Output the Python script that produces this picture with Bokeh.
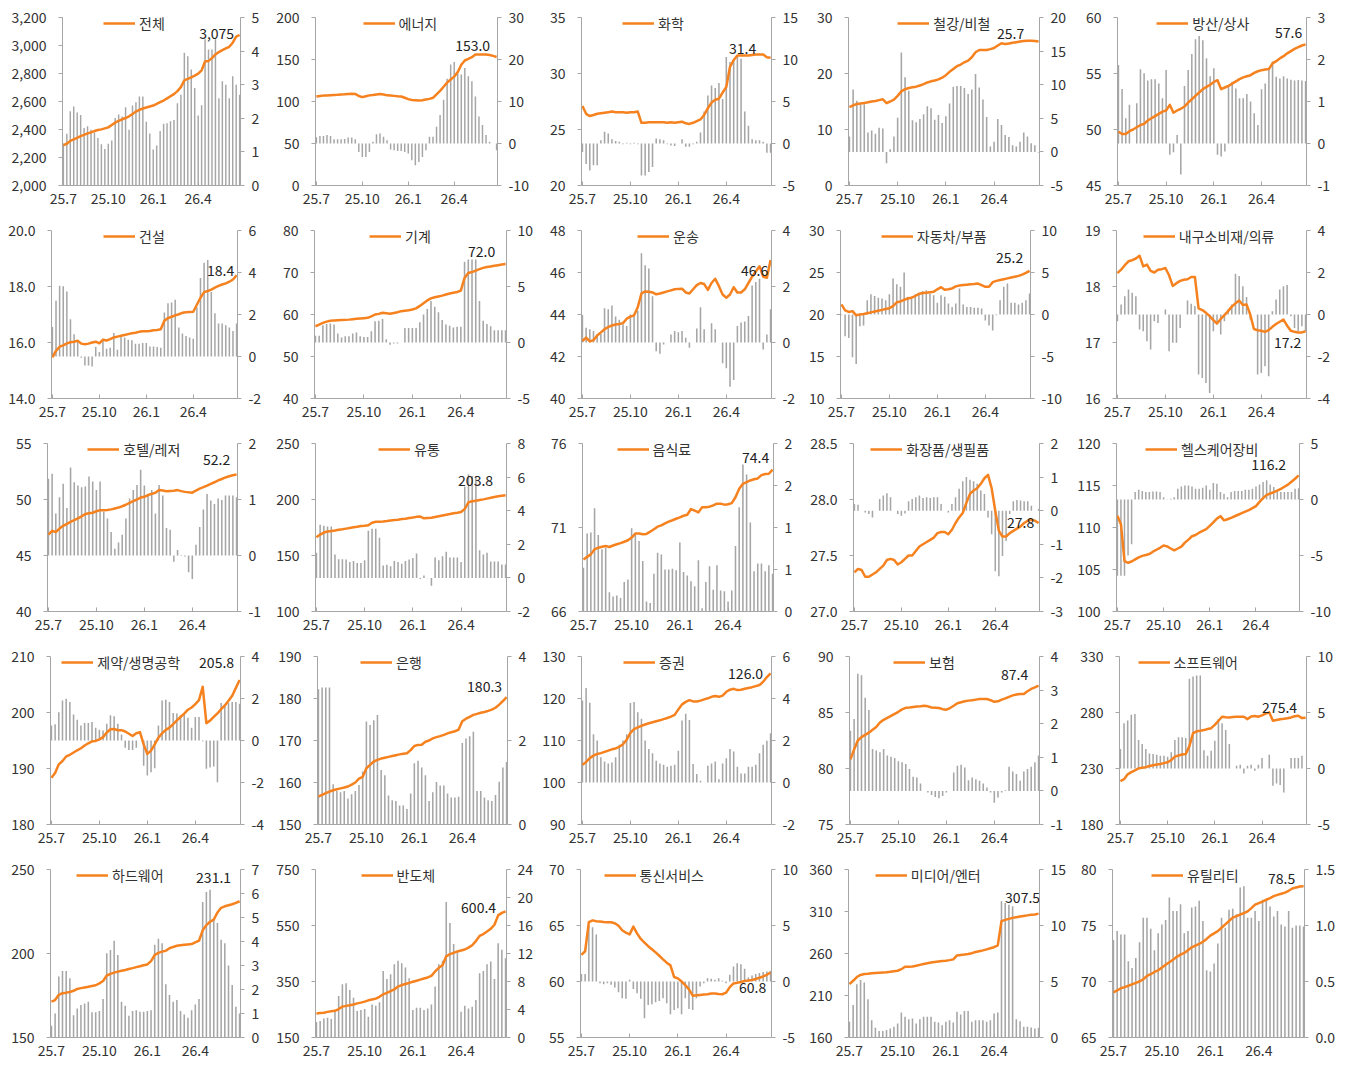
from bokeh.plotting import figure
from bokeh.models import Range1d, LinearAxis, FixedTicker, Legend, LegendItem, Label
from bokeh.layouts import column, row
from bokeh.embed import file_html
from bokeh.resources import INLINE

# ---------------- data ----------------
N_WEEKS = 52
weeks = list(range(N_WEEKS))
x_tick_pos = [0, 13, 26, 39]
x_tick_labels = ["25.7", "25.10", "26.1", "26.4"]

sector_names = ["전체", "에너지", "화학", "철강/비철", "방산/상사",
                "건설", "기계", "운송", "자동차/부품", "내구소비재/의류",
                "호텔/레저", "유통", "음식료", "화장품/생필품", "헬스케어장비",
                "제약/생명공학", "은행", "증권", "보험", "소프트웨어",
                "하드웨어", "반도체", "통신서비스", "미디어/엔터", "유틸리티"]

total_line = [2288, 2298, 2319, 2329, 2341, 2353, 2362, 2372, 2379, 2389, 2396, 2401, 2408, 2415, 2432, 2449, 2461, 2473, 2482, 2494, 2511, 2528, 2540, 2550, 2557, 2564, 2571, 2583, 2595, 2607, 2622, 2638, 2653, 2674, 2703, 2751, 2761, 2773, 2785, 2799, 2823, 2886, 2890, 2910, 2936, 2953, 2967, 2979, 2991, 3020, 3063, 3075]
total_bar = [1.25, 1.54, 2.21, 2.35, 2.17, 2.1, 1.71, 1.76, 1.66, 1.58, 1.41, 1.23, 1.09, 1.24, 1.34, 2.01, 2.11, 2.05, 2.33, 1.66, 2.38, 2.48, 2.65, 2.65, 1.9, 1.55, 1.07, 1.19, 1.62, 1.84, 1.85, 1.91, 1.95, 2.45, 2.7, 3.95, 3.85, 3.45, 2.9, 2.08, 2.39, 4.35, 4.05, 4.05, 4.35, 2.6, 3.1, 3.0, 2.6, 3.25, 3.0, 2.7]

energy_line = [106, 106.5, 107, 107.2, 107.5, 107.8, 108, 108.3, 108.6, 109, 109.3, 109, 106.5, 105.2, 106.3, 107.3, 107.8, 108.4, 108.8, 108.3, 107.3, 107, 106.7, 106.3, 106, 104.5, 102.8, 101.7, 101.4, 101.1, 101.5, 102.3, 103.1, 104.4, 108.5, 112.7, 117.5, 122.5, 126.2, 129.6, 135, 143.7, 148.8, 150.7, 152.8, 156, 156, 156, 156, 155.4, 154.3, 153.0]
energy_bar = [1.5, 1.8, 1.8, 2.0, 1.8, 1.0, 1.0, 1.0, 1.1, 1.4, 1.4, 1.0, -2.0, -3.2, -3.2, -2.0, 0.4, 2.2, 2.4, 1.6, 0.8, -1.4, -1.6, -1.8, -1.8, -2.0, -2.4, -4.0, -5.2, -4.4, -3.2, -1.6, 1.6, 1.6, 4.0, 6.8, 10.4, 15.4, 18.8, 19.4, 16.6, 16.4, 18.0, 16.0, 14.8, 11.2, 6.4, 4.4, 2.0, 0.4, 0.0, -1.6]

chem_line = [27.1, 26.4, 26.2, 26.3, 26.4, 26.45, 26.5, 26.55, 26.6, 26.55, 26.55, 26.55, 26.5, 26.55, 26.55, 26.6, 25.6, 25.6, 25.65, 25.65, 25.65, 25.65, 25.65, 25.6, 25.65, 25.6, 25.65, 25.7, 25.55, 25.5, 25.6, 25.75, 25.9, 26.3, 26.9, 27.4, 27.65, 27.75, 28.3, 28.8, 30.6, 31.2, 31.6, 31.6, 31.6, 31.6, 31.65, 31.7, 31.7, 31.7, 31.45, 31.4]
chem_bar = [-1.0, -2.45, -3.2, -2.6, -2.6, 0.4, 1.4, 1.2, 0.5, 0.3, 0.2, -0.1, 0.1, -0.1, 0.1, -0.1, -3.8, -3.8, -3.4, -2.8, 0.6, 0.5, 0.4, -0.1, -0.25, -0.3, 0.0, 0.5, -0.4, -0.4, -0.1, 0.2, 1.3, 3.8, 5.7, 6.9, 6.6, 7.2, 5.3, 10.3, 9.7, 10.0, 10.5, 10.1, 3.8, 2.1, 0.5, 0.4, 0.4, 0.2, -1.1, -1.1]

steel_line = [14.0, 14.3, 14.55, 14.65, 14.75, 14.85, 15.0, 15.1, 15.25, 15.4, 14.7, 15.0, 15.35, 16.0, 16.8, 17.2, 17.4, 17.55, 17.65, 17.85, 18.1, 18.4, 18.6, 18.75, 18.95, 19.25, 19.7, 20.3, 20.8, 21.3, 21.6, 22.0, 22.3, 22.9, 23.8, 24.2, 24.2, 24.2, 24.35, 24.55, 25.0, 25.4, 25.25, 25.35, 25.5, 25.6, 25.7, 25.8, 25.85, 25.85, 25.8, 25.7]
steel_bar = [2.3, 9.3, 7.6, 7.1, 7.1, 2.9, 3.2, 2.7, 3.6, 3.5, -1.7, 0.4, 2.3, 5.1, 14.8, 11.1, 9.1, 4.7, 4.4, 4.9, 5.6, 6.8, 6.5, 4.8, 5.5, 4.3, 5.3, 7.2, 9.7, 9.8, 9.8, 9.5, 8.6, 9.3, 11.6, 9.6, 7.8, 5.2, 0.8, 1.5, 4.9, 4.0, 2.5, 2.2, 1.0, 0.8, 1.5, 2.9, 2.3, 1.3, 1.0, -0.1]

defense_line = [49.8, 49.6, 49.6, 49.85, 50.0, 50.2, 50.4, 50.5, 50.8, 51.0, 51.2, 51.4, 51.6, 51.7, 52.2, 51.5, 51.7, 51.85, 52.05, 52.4, 52.7, 53.0, 53.3, 53.6, 53.8, 54.0, 54.25, 54.4, 53.6, 53.75, 53.9, 54.1, 54.3, 54.5, 54.65, 54.75, 54.85, 55.05, 55.2, 55.3, 55.35, 55.4, 55.9, 56.1, 56.35, 56.55, 56.8, 57.0, 57.2, 57.35, 57.5, 57.6]
defense_bar = [1.87, 1.3, 0.6, 0.92, 0.0, 0.96, 1.77, 1.67, 1.5, 1.53, 1.53, 1.43, 1.08, 1.75, -0.27, -0.21, 0.2, -0.74, 1.37, 1.75, 2.13, 2.48, 2.56, 2.46, 2.03, 1.6, 1.79, -0.27, -0.31, -0.19, 1.39, 1.47, 1.31, 1.08, 1.08, 1.18, 1.0, 0.72, 0.44, 1.29, 1.43, 1.75, 1.95, 1.59, 1.55, 1.6, 1.55, 1.52, 1.5, 1.51, 1.5, 1.49]

constr_line = [15.47, 15.7, 15.85, 15.9, 15.97, 16.01, 16.03, 16.06, 15.96, 15.94, 15.96, 16.0, 16.03, 15.97, 16.1, 16.07, 16.12, 16.18, 16.21, 16.24, 16.27, 16.3, 16.33, 16.35, 16.38, 16.4, 16.4, 16.41, 16.44, 16.45, 16.47, 16.78, 16.87, 16.92, 16.97, 17.01, 17.06, 17.08, 17.09, 17.1, 17.35, 17.6, 17.8, 17.84, 17.89, 17.96, 18.02, 18.07, 18.11, 18.17, 18.25, 18.4]
constr_bar = [1.41, 2.65, 3.37, 3.34, 3.1, 1.77, 1.06, 0.69, -0.06, -0.43, -0.43, -0.48, 0.45, 0.21, 0.85, 0.37, 0.42, 1.12, 0.32, 0.93, 0.9, 0.8, 0.77, 0.61, 0.61, 0.64, 0.64, 0.48, 0.48, 0.45, 0.42, 2.09, 2.54, 2.57, 2.7, 1.38, 1.09, 0.98, 0.9, 0.85, 2.34, 3.74, 4.46, 4.6, 3.07, 2.06, 1.57, 1.57, 1.49, 1.38, 1.22, 1.57]

mach_line = [57.2, 57.6, 58.0, 58.3, 58.5, 58.6, 58.63, 58.67, 58.72, 58.78, 58.87, 58.97, 59.05, 59.13, 59.2, 59.55, 60.0, 60.15, 60.4, 60.3, 60.2, 60.35, 60.55, 60.8, 60.9, 61.0, 61.2, 61.45, 62.05, 62.7, 63.35, 63.85, 64.1, 64.3, 64.5, 64.75, 65.0, 65.2, 65.35, 65.7, 68.7, 69.9, 70.1, 70.45, 70.8, 71.1, 71.3, 71.45, 71.6, 71.75, 71.9, 72.0]
mach_bar = [0.6, 0.6, 1.55, 1.65, 1.7, 1.6, 0.8, 0.45, 0.55, 0.55, 0.8, 0.9, 0.55, 0.5, 0.5, 1.0, 1.9, 1.95, 2.1, 0.3, -0.2, -0.1, -0.1, 0.0, 1.3, 1.3, 1.3, 1.3, 1.8, 2.5, 3.0, 3.7, 3.2, 2.7, 2.0, 1.6, 1.5, 1.35, 1.4, 1.4, 7.2, 7.4, 7.4, 7.4, 3.7, 1.95, 1.65, 1.45, 1.1, 1.1, 1.1, 1.1]

trans_line = [42.74, 42.9, 42.72, 42.78, 43.0, 43.15, 43.3, 43.4, 43.48, 43.52, 43.55, 43.59, 43.8, 43.9, 43.96, 44.35, 45.0, 45.1, 45.08, 45.05, 44.96, 45.0, 45.05, 45.1, 45.15, 45.2, 45.22, 45.23, 45.05, 45.0, 45.2, 45.4, 45.5, 45.45, 45.17, 45.5, 45.7, 45.35, 44.95, 44.8, 44.95, 45.3, 45.05, 45.05, 45.2, 45.5, 45.8, 46.05, 46.3, 45.8, 45.75, 46.6]
trans_bar = [0.98, 0.53, 0.47, 0.41, 0.29, 0.3, 1.22, 1.19, 1.32, 0.93, 0.81, 0.65, 0.59, 1.0, 0.95, 1.13, 3.19, 2.76, 2.64, 1.65, -0.31, -0.4, -0.07, 0.0, 0.29, 0.41, 0.37, 0.41, 0.17, -0.19, 0.0, 0.5, 1.26, 0.47, -0.01, 0.69, 0.47, 0.0, -0.74, -0.92, -1.58, -1.34, 0.59, 0.71, 0.75, 0.95, 2.04, 2.16, 2.28, -0.25, 0.29, 1.19]

auto_line = [21.2, 20.5, 20.3, 20.4, 19.9, 20.0, 20.05, 20.15, 20.25, 20.35, 20.45, 20.55, 20.65, 20.75, 21.0, 21.45, 21.55, 21.75, 21.9, 22.0, 22.2, 22.45, 22.55, 22.6, 22.65, 22.7, 23.0, 23.25, 22.95, 23.0, 23.1, 23.35, 23.45, 23.5, 23.55, 23.6, 23.62, 23.68, 23.5, 23.3, 23.3, 23.85, 24.0, 24.1, 24.2, 24.3, 24.4, 24.5, 24.6, 24.75, 24.95, 25.2]
auto_bar = [-0.1, -2.6, -2.8, -5.1, -5.9, -1.4, -1.3, 1.7, 2.4, 2.2, 2.0, 1.9, 1.7, 2.4, 4.3, 3.6, 3.3, 5.0, 2.1, 2.1, 2.4, 2.6, 2.8, 2.9, 2.5, 2.3, 1.4, 2.3, 2.1, 1.3, 0.9, 1.3, 3.1, 1.2, 0.9, 0.9, 0.8, 0.8, 0.7, -0.7, -1.3, -1.9, -0.1, 1.7, 3.3, 3.7, 1.4, 1.4, 1.2, 1.4, 1.7, 2.5]

durable_line = [18.24, 18.3, 18.38, 18.45, 18.47, 18.5, 18.55, 18.36, 18.39, 18.28, 18.25, 18.3, 18.31, 18.33, 18.2, 18.01, 18.06, 18.1, 18.12, 18.13, 18.17, 18.17, 17.61, 17.58, 17.53, 17.47, 17.4, 17.34, 17.42, 17.49, 17.56, 17.64, 17.7, 17.75, 17.67, 17.68, 17.5, 17.24, 17.22, 17.21, 17.19, 17.22, 17.28, 17.33, 17.37, 17.41, 17.3, 17.21, 17.19, 17.18, 17.18, 17.2]
durable_bar = [-0.32, 0.48, 0.87, 1.19, 1.03, 0.87, -0.72, -0.8, -1.27, -1.67, -0.32, -0.4, 0.0, 0.24, -1.75, -1.35, -1.35, -0.64, 0.0, 0.67, 0.51, 0.4, -2.86, -3.02, -3.26, -3.74, -0.8, -0.48, -0.95, -0.32, 0.24, 0.48, 1.94, 1.83, 1.35, 0.83, -0.24, 0.0, -2.86, -2.78, -2.46, -2.94, 0.16, 0.72, 1.19, 1.35, 1.4, -0.08, -0.64, -0.8, -0.56, -0.8]

hotel_line = [46.87, 47.2, 47.1, 47.4, 47.65, 47.83, 48.0, 48.15, 48.32, 48.5, 48.7, 48.78, 48.82, 48.95, 49.05, 49.04, 49.06, 49.12, 49.2, 49.28, 49.4, 49.53, 49.7, 49.85, 50.0, 50.17, 50.24, 50.4, 50.5, 50.6, 50.85, 50.8, 50.73, 50.76, 50.79, 50.84, 50.75, 50.68, 50.64, 50.61, 50.8, 50.97, 51.1, 51.24, 51.39, 51.54, 51.7, 51.83, 51.97, 52.07, 52.17, 52.23]
hotel_bar = [1.37, 1.46, 0.75, 1.04, 1.28, 0.85, 1.57, 1.31, 1.25, 1.22, 1.23, 1.41, 1.32, 1.17, 1.32, 0.78, 0.66, 0.42, 0.12, 0.23, 0.37, 0.66, 1.02, 1.17, 1.26, 1.53, 1.25, 1.1, 1.17, 0.75, 1.26, 1.07, 0.49, 0.46, -0.11, 0.1, 0.01, -0.02, -0.3, -0.42, 0.19, 0.51, 0.82, 1.1, 0.98, 0.92, 1.02, 0.99, 1.07, 1.07, 1.07, 1.04]

retail_line = [166.3, 168.7, 170.5, 171.4, 171.8, 172.3, 172.9, 173.4, 174.0, 174.6, 175.2, 175.7, 176.3, 176.6, 177.0, 179.2, 180.1, 180.2, 180.4, 180.8, 181.3, 181.6, 182.0, 182.5, 182.9, 183.4, 183.9, 184.5, 184.8, 183.2, 183.5, 183.7, 184.4, 185.1, 185.8, 186.4, 187.0, 187.7, 188.2, 188.8, 191.6, 197.5, 198.4, 198.9, 199.5, 200.1, 200.8, 201.5, 202.3, 202.9, 203.4, 203.8]
retail_bar = [1.49, 3.16, 3.1, 3.06, 3.06, 1.39, 1.11, 1.11, 1.09, 0.94, 1.0, 0.88, 0.88, 1.05, 2.81, 2.93, 2.93, 2.39, 0.74, 0.78, 0.7, 1.0, 0.94, 0.84, 1.0, 1.09, 1.19, 1.45, -0.06, 0.14, -0.02, -0.46, 1.21, 1.05, 1.29, 1.55, 1.21, 1.21, 1.21, 0.94, 5.43, 6.17, 6.07, 6.03, 1.65, 1.39, 1.49, 0.98, 0.98, 0.98, 0.8, 0.8]

food_line = [69.1, 69.25, 69.4, 69.7, 69.8, 69.85, 69.9, 69.84, 69.93, 70.0, 70.07, 70.15, 70.24, 70.4, 70.64, 70.64, 70.6, 70.62, 70.75, 70.9, 71.05, 71.13, 71.25, 71.35, 71.43, 71.52, 71.6, 71.7, 71.76, 72.1, 72.0, 71.9, 72.2, 72.2, 72.24, 72.32, 72.42, 72.42, 72.36, 72.38, 72.45, 72.8, 73.3, 73.6, 73.7, 73.8, 73.87, 73.92, 74.12, 74.18, 74.2, 74.44]
food_bar = [0.52, 0.93, 0.94, 1.23, 0.91, 0.74, 0.76, 0.23, 0.18, 0.19, 0.16, 0.35, 0.38, 0.99, 0.93, 0.84, 0.6, 0.12, 0.1, 0.45, 0.7, 0.68, 0.5, 0.5, 0.51, 0.49, 0.82, 0.47, 0.43, 0.36, 0.3, 0.61, 0.04, 0.35, 0.54, 0.26, 0.55, 0.25, 0.24, 0.12, 0.25, 0.78, 1.24, 1.75, 1.63, 1.06, 0.48, 0.57, 0.57, 0.48, 0.55, 0.45]

cosm_line = [27.35, 27.38, 27.37, 27.31, 27.31, 27.33, 27.35, 27.38, 27.41, 27.46, 27.47, 27.46, 27.42, 27.44, 27.47, 27.5, 27.5, 27.54, 27.58, 27.6, 27.62, 27.64, 27.66, 27.7, 27.71, 27.71, 27.69, 27.73, 27.79, 27.84, 27.88, 27.97, 28.05, 28.08, 28.1, 28.14, 28.19, 28.22, 28.1, 27.9, 27.72, 27.67, 27.67, 27.7, 27.72, 27.74, 27.76, 27.79, 27.81, 27.82, 27.81, 27.79]
cosm_bar = [0.2, 0.18, 0.0, -0.05, -0.1, -0.2, 0.0, 0.35, 0.45, 0.52, 0.4, 0.0, -0.1, -0.15, -0.08, 0.28, 0.35, 0.4, 0.45, 0.38, 0.4, 0.38, 0.4, 0.4, 0.2, 0.0, -0.05, 0.2, 0.4, 0.65, 0.88, 1.0, 0.92, 0.88, 0.8, 0.6, 0.5, -0.2, -0.7, -1.8, -1.95, -1.35, -0.9, -0.1, 0.28, 0.32, 0.3, 0.28, 0.28, 0.15, 0.0, 0.05]

health_line = [111.4, 110.4, 106.0, 105.8, 105.95, 106.2, 106.45, 106.62, 106.72, 106.84, 107.12, 107.35, 107.58, 107.86, 107.75, 107.5, 107.28, 107.5, 107.72, 108.2, 108.56, 108.96, 109.1, 109.38, 109.6, 109.8, 110.2, 110.6, 111.06, 111.35, 110.85, 110.98, 111.15, 111.34, 111.52, 111.7, 111.9, 112.07, 112.3, 112.55, 113.05, 113.5, 113.86, 114.05, 114.2, 114.4, 114.6, 114.85, 115.1, 115.45, 115.8, 116.2]
health_bar = [-6.8, -6.8, -6.8, -5.0, -4.0, 0.66, 0.87, 0.75, 0.66, 0.66, 0.72, 0.72, 0.66, 0.21, -0.03, 0.06, 0.21, 0.96, 1.17, 1.26, 1.26, 1.17, 0.96, 0.96, 1.05, 1.26, 0.87, 1.47, 1.41, 0.66, 0.51, 0.21, 0.66, 0.75, 0.75, 0.75, 0.87, 0.87, 0.96, 1.17, 1.35, 1.56, 1.71, 1.35, 1.11, 0.81, 0.66, 0.66, 0.66, 0.66, 0.96, 1.0]

pharma_line = [188.35, 189.2, 190.74, 191.34, 192.15, 192.45, 192.85, 193.25, 193.62, 194.1, 194.5, 194.85, 194.92, 195.2, 195.6, 196.43, 197.0, 197.05, 196.84, 196.84, 196.6, 196.2, 195.8, 196.3, 196.5, 194.3, 192.6, 193.2, 194.3, 195.5, 196.3, 196.9, 197.3, 197.9, 198.6, 199.2, 199.8, 200.5, 200.9, 201.5, 202.2, 204.6, 198.1, 198.55, 199.2, 199.83, 200.6, 201.25, 202.1, 203.0, 204.4, 205.8]
pharma_bar = [0.72, 0.77, 1.35, 1.91, 1.99, 1.83, 1.24, 0.99, 0.72, 0.83, 0.83, 0.88, 0.61, 0.51, 0.48, 0.8, 1.2, 1.15, 0.8, 0.29, -0.35, -0.45, -0.45, -0.35, 0.0, -1.2, -1.67, -1.51, -1.32, 0.72, 1.91, 1.94, 1.83, 1.31, 1.28, 1.2, 1.24, 1.08, 0.61, 1.12, 1.12, -0.03, -1.35, -1.28, -1.24, -1.99, 1.79, 1.72, 1.79, 1.83, 1.83, 1.75]

bank_line = [156.64, 157.05, 157.45, 157.85, 158.15, 158.4, 158.6, 158.8, 159.05, 159.5, 160.0, 160.9, 161.35, 163.4, 164.2, 165.0, 165.4, 165.7, 165.9, 166.1, 166.3, 166.5, 166.7, 166.85, 166.95, 167.7, 168.7, 168.95, 169.0, 169.7, 170.0, 170.5, 170.8, 171.05, 171.35, 171.7, 171.95, 172.2, 172.6, 174.6, 175.2, 175.65, 176.1, 176.35, 176.6, 176.8, 177.05, 177.35, 177.8, 178.55, 179.4, 180.3]
bank_bar = [3.22, 3.26, 3.26, 3.26, 0.96, 0.8, 0.77, 0.8, 0.62, 0.72, 0.8, 0.94, 1.26, 2.45, 2.37, 2.48, 2.61, 1.3, 1.17, 0.69, 0.58, 0.56, 0.45, 0.45, 0.37, 0.74, 1.46, 1.52, 1.36, 1.17, 0.56, 0.77, 1.01, 0.93, 0.93, 0.74, 0.64, 0.64, 0.66, 1.94, 2.05, 2.1, 2.21, 0.8, 0.8, 0.64, 0.58, 0.56, 0.7, 1.02, 1.36, 1.49]

sec_line = [104.2, 104.9, 105.8, 106.4, 106.8, 107.0, 107.3, 107.6, 107.9, 108.1, 108.5, 109.1, 110.2, 111.8, 112.7, 113.1, 113.5, 113.8, 114.1, 114.35, 114.6, 114.8, 115.1, 115.35, 115.7, 116.1, 117.4, 118.6, 119.2, 119.6, 119.3, 119.3, 119.5, 119.8, 120.05, 120.4, 120.6, 120.4, 120.7, 121.6, 122.1, 122.3, 122.0, 122.1, 122.3, 122.5, 122.7, 122.95, 123.2, 124.0, 125.1, 126.0]
sec_bar = [3.9, 4.5, 3.8, 2.3, 2.0, 1.2, 1.0, 0.9, 0.95, 1.2, 1.8, 2.0, 2.3, 3.78, 3.83, 3.35, 3.03, 2.0, 1.59, 1.39, 1.04, 0.91, 0.84, 0.75, 0.8, 0.84, 1.51, 2.95, 3.27, 2.98, 0.88, 0.4, 0.08, 0.0, 0.8, 0.91, 1.0, 0.16, 0.91, 1.16, 1.59, 1.48, 0.75, 0.43, 0.43, 0.75, 0.75, 0.84, 1.39, 1.8, 1.99, 2.34]

ins_line = [80.82, 81.7, 82.5, 82.8, 83.0, 83.2, 83.45, 83.7, 84.1, 84.35, 84.52, 84.7, 84.88, 85.06, 85.28, 85.42, 85.45, 85.49, 85.53, 85.56, 85.6, 85.55, 85.45, 85.43, 85.4, 85.3, 85.25, 85.4, 85.6, 85.82, 85.92, 86.0, 86.06, 86.1, 86.15, 86.2, 86.2, 86.2, 86.1, 85.95, 86.0, 86.15, 86.26, 86.4, 86.53, 86.6, 86.65, 86.65, 86.9, 87.1, 87.25, 87.4]
ins_bar = [1.79, 2.14, 3.49, 3.44, 2.77, 2.41, 1.25, 1.2, 1.15, 1.25, 1.05, 1.02, 0.98, 0.88, 0.85, 0.8, 0.65, 0.42, 0.4, 0.22, 0.0, -0.05, -0.12, -0.18, -0.22, -0.15, -0.05, 0.0, 0.55, 0.75, 0.78, 0.7, 0.32, 0.4, 0.35, 0.3, 0.22, 0.1, -0.05, -0.35, -0.2, -0.05, 0.02, 0.72, 0.58, 0.5, 0.3, 0.58, 0.65, 0.72, 0.85, 1.05]

sw_line = [218.8, 220.5, 224.8, 226.8, 228.4, 230.1, 230.7, 231.2, 232.2, 232.9, 233.5, 234.1, 234.8, 235.6, 237.5, 240.6, 241.6, 242.5, 243.0, 250.0, 261.5, 263.2, 263.7, 264.3, 265.2, 266.0, 268.9, 272.6, 276.2, 275.8, 275.6, 275.9, 276.2, 276.2, 276.2, 274.1, 276.5, 276.8, 276.3, 277.5, 279.0, 280.1, 272.6, 273.3, 274.0, 274.4, 274.9, 275.6, 276.6, 277.1, 275.0, 275.4]
sw_bar = [1.73, 4.04, 4.28, 4.81, 4.87, 2.54, 2.18, 1.73, 1.35, 1.29, 1.23, 1.14, 1.14, 1.05, 1.44, 2.54, 2.78, 2.78, 2.72, 8.01, 8.22, 8.31, 8.31, 1.64, 1.14, 1.58, 2.48, 4.43, 4.04, 3.44, 2.18, 0.0, 0.24, 0.33, -0.45, 0.24, 0.33, -0.21, 0.33, 0.93, 0.0, 1.23, -1.55, -1.35, -1.47, -2.15, 0.0, 0.93, 0.93, 0.93, 1.14, 0.0]

hw_line = [171.4, 172.3, 175.4, 176.4, 176.7, 177.1, 177.8, 178.9, 179.4, 179.8, 180.2, 180.7, 181.1, 182.2, 183.6, 186.9, 187.9, 188.6, 189.2, 189.7, 190.2, 190.8, 191.3, 191.9, 192.4, 193.0, 193.5, 195.5, 199.1, 200.4, 201.1, 201.6, 203.1, 203.9, 204.6, 204.95, 205.2, 205.4, 205.6, 206.6, 207.6, 213.8, 216.9, 218.9, 220.2, 224.4, 227.2, 228.1, 228.7, 229.3, 230.1, 231.1]
hw_bar = [0.49, 1.0, 2.54, 2.77, 2.77, 2.47, 0.93, 1.21, 1.35, 1.42, 1.49, 1.05, 1.05, 1.1, 1.6, 3.51, 3.65, 4.03, 3.44, 1.49, 1.32, 0.91, 1.1, 1.14, 1.07, 1.07, 1.1, 1.14, 3.86, 4.11, 3.93, 2.22, 1.77, 1.49, 1.56, 1.1, 0.96, 0.82, 1.14, 1.38, 1.6, 5.65, 6.06, 6.16, 4.87, 4.77, 4.07, 3.93, 3.0, 2.19, 1.28, 1.0]

semi_line = [236.1, 237.4, 238.7, 241.5, 243.5, 245.5, 251.7, 260.3, 262.9, 265.3, 268.0, 271.8, 274.6, 278.1, 282.7, 285.7, 288.8, 295.3, 304.3, 309.5, 315.5, 321.5, 331.8, 337.3, 341.3, 344.9, 348.9, 352.8, 356.8, 360.8, 364.4, 370.0, 385.8, 399.0, 408.2, 440.0, 447.7, 452.4, 457.4, 460.7, 464.3, 471.0, 479.5, 494.3, 513.0, 519.6, 528.8, 538.3, 552.6, 586.3, 595.0, 600.4]
semi_bar = [2.2, 2.34, 2.72, 2.82, 2.63, 3.78, 5.93, 7.6, 7.74, 6.79, 5.69, 3.78, 3.92, 4.06, 2.96, 4.73, 4.54, 5.02, 9.51, 8.37, 9.03, 10.47, 10.95, 10.61, 9.99, 8.46, 3.92, 4.25, 4.25, 3.92, 4.16, 4.73, 7.27, 10.47, 10.95, 19.36, 16.35, 13.34, 12.28, 3.68, 4.54, 4.16, 4.4, 5.35, 9.18, 9.51, 10.47, 10.85, 8.37, 13.48, 12.52, 11.33]

tele_line = [62.38, 62.7, 65.3, 65.46, 65.38, 65.35, 65.32, 65.3, 65.29, 65.2, 64.98, 64.58, 64.36, 64.2, 64.9, 64.3, 63.8, 63.48, 63.15, 62.88, 62.6, 62.3, 61.98, 61.68, 61.44, 60.4, 60.28, 60.0, 59.68, 59.3, 58.73, 58.77, 58.8, 58.83, 58.86, 58.92, 58.93, 58.88, 58.86, 59.0, 59.5, 59.83, 59.89, 59.96, 60.04, 60.08, 60.13, 60.22, 60.34, 60.45, 60.6, 60.8]
tele_bar = [0.66, 0.66, 5.02, 4.84, 4.19, -0.15, -0.24, -0.15, -0.3, -0.54, -0.96, -1.5, -1.55, 0.15, -0.66, -1.05, -1.55, -3.29, -2.09, -2.03, -1.85, -1.73, -1.5, -1.94, -2.93, -2.54, -2.39, -2.93, -1.5, -2.45, -2.54, -1.5, -0.45, -0.15, 0.3, 0.24, 0.15, 0.3, 0.06, -0.15, 0.6, 1.35, 1.64, 1.55, 1.14, 0.36, 0.54, 0.66, 0.75, 0.84, 0.9, 0.96]

media_line = [223.5, 227.5, 232.0, 234.5, 235.5, 236.0, 236.6, 236.9, 237.2, 237.5, 237.8, 238.3, 238.9, 239.5, 241.3, 244.2, 244.3, 244.5, 245.4, 246.5, 247.5, 248.3, 249.2, 250.0, 250.5, 251.0, 251.5, 252.1, 253.0, 257.7, 258.3, 258.8, 259.4, 260.4, 261.7, 262.7, 263.7, 264.9, 266.2, 267.5, 269.7, 298.5, 300.0, 301.2, 302.4, 303.2, 304.0, 304.7, 305.4, 306.0, 306.5, 307.5]
media_bar = [1.4, 2.9, 4.75, 5.14, 4.9, 3.41, 1.55, 0.87, 0.57, 0.57, 0.66, 0.81, 0.96, 1.25, 2.24, 1.85, 1.64, 1.7, 1.25, 1.64, 1.85, 1.85, 1.85, 1.4, 1.34, 1.1, 1.4, 1.55, 1.34, 2.3, 2.06, 2.36, 2.36, 1.4, 1.55, 1.55, 1.55, 1.4, 1.55, 2.15, 2.24, 12.16, 12.01, 11.86, 11.71, 1.64, 1.46, 0.96, 0.96, 0.9, 0.81, 0.87]

util_line = [69.03, 69.2, 69.4, 69.5, 69.62, 69.75, 69.88, 70.0, 70.2, 70.5, 70.65, 70.85, 71.0, 71.24, 71.5, 71.72, 71.95, 72.2, 72.4, 72.55, 72.8, 73.05, 73.2, 73.35, 73.55, 73.8, 74.1, 74.3, 74.5, 74.8, 75.1, 75.4, 75.7, 75.83, 75.98, 76.1, 76.26, 76.55, 76.86, 77.0, 77.14, 77.3, 77.45, 77.62, 77.73, 77.83, 77.94, 78.1, 78.3, 78.4, 78.48, 78.5]
util_bar = [0.87, 0.95, 0.92, 0.92, 0.68, 0.62, 0.71, 0.85, 1.07, 1.07, 0.97, 0.78, 0.93, 1.01, 1.05, 1.25, 1.13, 1.13, 1.19, 0.93, 0.95, 1.16, 1.17, 1.22, 1.04, 0.6, 0.59, 0.66, 0.84, 1.07, 0.98, 1.14, 1.15, 1.1, 1.34, 1.35, 1.07, 1.07, 1.13, 1.04, 1.23, 1.22, 1.17, 1.08, 1.13, 1.01, 0.99, 1.13, 0.98, 1.0, 1.0, 0.99]

line_series = [total_line, energy_line, chem_line, steel_line, defense_line,
               constr_line, mach_line, trans_line, auto_line, durable_line,
               hotel_line, retail_line, food_line, cosm_line, health_line,
               pharma_line, bank_line, sec_line, ins_line, sw_line,
               hw_line, semi_line, tele_line, media_line, util_line]
bar_series = [total_bar, energy_bar, chem_bar, steel_bar, defense_bar,
              constr_bar, mach_bar, trans_bar, auto_bar, durable_bar,
              hotel_bar, retail_bar, food_bar, cosm_bar, health_bar,
              pharma_bar, bank_bar, sec_bar, ins_bar, sw_bar,
              hw_bar, semi_bar, tele_bar, media_bar, util_bar]

# axis scales: (lo, hi, step)
left_axes = [(2000, 3200, 200), (0, 200, 50), (20, 35, 5), (0, 30, 10), (45, 60, 5),
             (14, 20, 2), (40, 80, 10), (40, 48, 2), (10, 30, 5), (16, 19, 1),
             (40, 55, 5), (100, 250, 50), (66, 76, 5), (27, 28.5, 0.5), (100, 120, 5),
             (180, 210, 10), (150, 190, 10), (90, 130, 10), (75, 90, 5), (180, 330, 50),
             (150, 250, 50), (150, 750, 200), (55, 70, 5), (160, 360, 50), (65, 80, 5)]
right_axes = [(0, 5, 1), (-10, 30, 10), (-5, 15, 5), (-5, 20, 5), (-1, 3, 1),
              (-2, 6, 2), (-5, 10, 5), (-2, 4, 2), (-10, 10, 5), (-4, 4, 2),
              (-1, 2, 1), (-2, 8, 2), (0, 2, 0.5), (-3, 2, 1), (-10, 5, 5),
              (-4, 4, 2), (0, 4, 2), (-2, 6, 2), (-1, 4, 1), (-5, 10, 5),
              (0, 7, 1), (0, 24, 4), (-5, 10, 5), (0, 15, 5), (0, 1.5, 0.5)]
left_fmt = ["{:,.0f}"] + ["{:.0f}"] * 24
left_fmt[5] = "{:.1f}"
left_fmt[13] = "{:.1f}"
right_fmt = ["{:.0f}"] * 25
right_fmt[24] = "{:.1f}"
food_right_labels = ["0", "1", "1", "2", "2"]

# ---------------- style / layout ----------------
FONT = "Noto Sans CJK KR"
ORANGE = "#F5821F"
BAR_GRAY = "#A6A6A6"
AXIS_GRAY = "#A6A6A6"
TEXT = "#333333"

ROW_H = 213
TOP = 17
BOT = 28
FH = ROW_H - TOP - BOT
LEG_H = 16

col_start = [0, 270, 538, 805, 1072]
col_end = [270, 538, 805, 1072, 1339]
frames = [
    [(62, 240), (315, 497), (581, 771), (848, 1039), (1117, 1306)],
    [(51, 237), (314, 506), (581, 771), (840, 1030), (1116, 1306)],
    [(47, 237), (315, 506), (582, 773), (853, 1039), (1116, 1299)],
    [(50, 240), (317, 507), (581, 771), (849, 1039), (1119, 1306)],
    [(50, 240), (315, 506), (580, 771), (848, 1039), (1112, 1304)],
]
legend_cx = [134, 400, 653, 944, 1203,
             134, 400, 668, 934, 1209,
             134, 409, 654, 930, 1202,
             121, 391, 654, 924, 1188,
             120, 398, 654, 928, 1195]
label_off = [(-23, 2), (-24, 11), (-28, 9), (-28, 8), (-17, 12),
             (-16, 5), (-24, 13), (-16, -11), (-20, 13), (-18, -11),
             (-20, 15), (-30, 15), (-17, 12), (-18, 1), (-30, 11),
             (-23, 18), (-22, 11), (-25, 0), (-24, 11), (-26, 10),
             (-26, 24), (-27, 4), (-18, -15), (-16, 16), (-22, 8)]


def make_ticks(lo, hi, step):
    n = int(round((hi - lo) / step))
    return [round(lo + k * step, 6) for k in range(n + 1)]


def style_axis(ax, tick_in=0, tick_out=4, standoff=8, line=True):
    ax.axis_line_color = AXIS_GRAY if line else None
    ax.axis_line_width = 1
    ax.major_tick_line_color = AXIS_GRAY
    ax.major_tick_in = tick_in
    ax.major_tick_out = tick_out
    ax.minor_tick_line_color = None
    ax.major_label_text_font = FONT
    ax.major_label_text_font_size = "14px"
    ax.major_label_text_color = TEXT
    ax.major_label_standoff = standoff


bad = [(sector_names[i], len(line_series[i]), len(bar_series[i]))
       for i in range(25) if len(line_series[i]) != N_WEEKS or len(bar_series[i]) != N_WEEKS]
assert not bad, str(bad)


def build(i):
    r, c = divmod(i, 5)
    x0, x1 = frames[r][c]
    W = col_end[c] - col_start[c]
    L = x0 - col_start[c]
    R = col_end[c] - x1
    llo, lhi, lstep = left_axes[i]
    rlo, rhi, rstep = right_axes[i]

    p = figure(width=W, height=ROW_H, x_range=Range1d(-0.25, 51.25),
               y_range=Range1d(llo, lhi), output_backend="svg",
               toolbar_location=None, tools="",
               min_border_left=L, min_border_right=R,
               min_border_top=TOP, min_border_bottom=BOT)
    p.extra_y_ranges = {"right": Range1d(rlo, rhi)}
    p.xgrid.visible = False
    p.ygrid.visible = False
    p.outline_line_color = None
    p.background_fill_color = "white"
    p.border_fill_color = "white"

    p.vbar(x=weeks, top=bar_series[i], bottom=0, width=0.42,
           y_range_name="right", fill_color=BAR_GRAY, line_color=None)
    lr = p.line(weeks, line_series[i], line_color=ORANGE, line_width=2.5,
                line_join="round")

    # x axis
    xa = p.xaxis[0]
    xa.ticker = FixedTicker(ticks=x_tick_pos)
    xa.major_label_overrides = dict(zip(x_tick_pos, x_tick_labels))
    style_axis(xa, tick_in=4, tick_out=0, standoff=7)

    # left axis
    lt = make_ticks(llo, lhi, lstep)
    ya = p.yaxis[0]
    ya.ticker = FixedTicker(ticks=lt)
    ya.major_label_overrides = {t: left_fmt[i].format(t) for t in lt}
    style_axis(ya, standoff=12)

    # right axis
    rt = make_ticks(rlo, rhi, rstep)
    if i == 12:
        rlab = dict(zip(rt, food_right_labels))
    else:
        rlab = {t: right_fmt[i].format(t) for t in rt}
    ra = LinearAxis(y_range_name="right", ticker=FixedTicker(ticks=rt),
                    major_label_overrides=rlab)
    style_axis(ra, standoff=7)
    p.add_layout(ra, "right")

    # legend (inside frame, at its top)
    name = sector_names[i]
    n_h = sum(1 for ch in name if "\uac00" <= ch <= "\ud7a3")
    n_s = name.count("/")
    w_leg = 32 + 4 + 13.0 * n_h + 5.5 * n_s
    lx = legend_cx[i] - x0 - w_leg / 2
    legend = Legend(items=[LegendItem(label=name, renderers=[lr])],
                    location=(lx, FH - LEG_H), orientation="horizontal",
                    padding=0, margin=0, spacing=0,
                    border_line_color=None, background_fill_alpha=0,
                    glyph_width=32, glyph_height=LEG_H, label_height=LEG_H,
                    label_standoff=4, label_text_font=FONT,
                    label_text_font_size="14px", label_text_color=TEXT,
                    label_text_baseline="middle")
    p.add_layout(legend)

    # last value label
    last = line_series[i][-1]
    txt = "{:,.0f}".format(last) if i == 0 else "{:.1f}".format(last)
    dx, dy = label_off[i]
    p.add_layout(Label(x=weeks[-1], y=last, x_offset=dx, y_offset=dy, text=txt,
                       text_align="center", text_baseline="middle",
                       text_font=FONT, text_font_size="14px", text_color="#222222"))
    return p


figs = [build(i) for i in range(25)]
layout = column(*[row(*figs[r * 5:(r + 1) * 5]) for r in range(5)])

open("out.html", "w").write(file_html(layout, INLINE))
